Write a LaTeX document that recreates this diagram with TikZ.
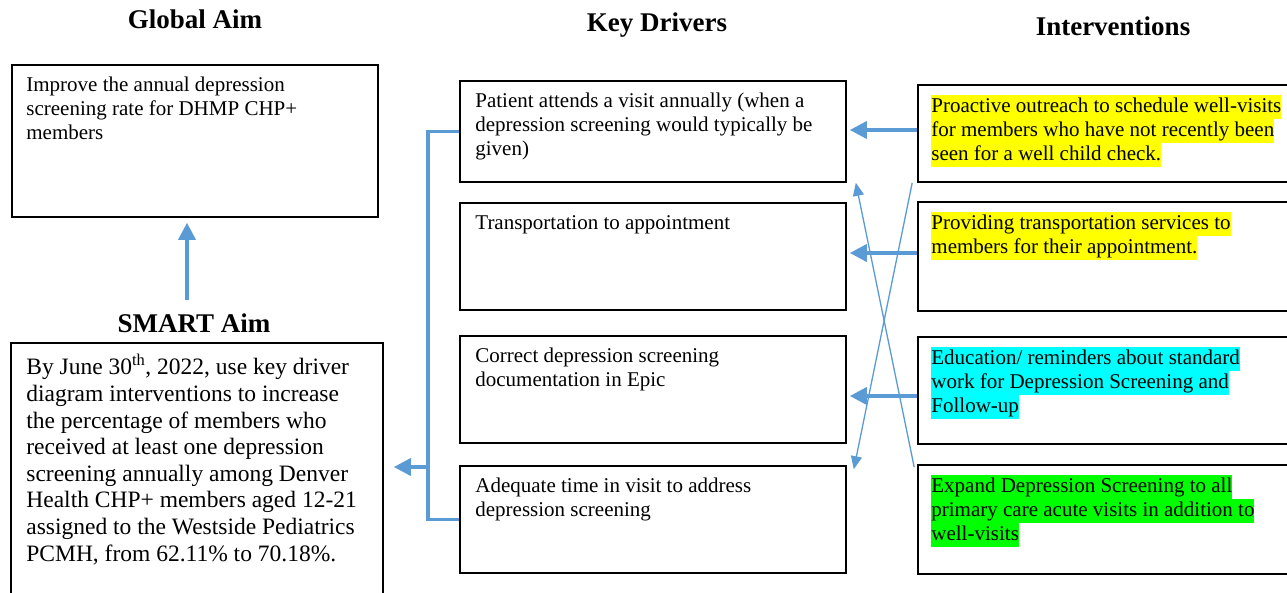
\documentclass[tikz,border=0pt]{standalone}
\usepackage{fontspec}
\setmainfont{Liberation Serif}
\usetikzlibrary{arrows.meta,positioning}
\definecolor{kddblue}{RGB}{91,155,213}
\definecolor{hlyellow}{RGB}{255,255,0}
\definecolor{hlcyan}{RGB}{0,255,255}
\definecolor{hlgreen}{RGB}{0,255,0}
\newcommand{\hlt}[2]{{\setlength{\fboxsep}{0pt}\colorbox{#1}{\strut #2}}}
\tikzset{
  box/.style={draw, line width=1.6pt, rectangle, inner sep=0pt},
  boxtext/.style={inner sep=0pt, align=left, font=\fontsize{21}{24}\selectfont},
  smarttext/.style={inner sep=0pt, align=left, font=\fontsize{23.5}{26.6}\selectfont},
  title/.style={anchor=base, inner sep=0pt, font=\fontsize{27}{30}\selectfont\bfseries},
  link/.style={draw=kddblue, line width=3.5pt},
  linkarrow/.style={link, -{Triangle[length=17pt,width=17pt]}},
  crossarrow/.style={draw=kddblue, line width=1.3pt, -{Triangle[length=13pt,width=11pt]}}
}
\begin{document}
\begin{tikzpicture}[x=1pt, y=-1pt]
\useasboundingbox[fill=white] (0,0) rectangle (1287,592);
% titles
\node[title] (tglobal) at (195,28) {Global Aim};
\node[title] (tdrivers) at (657,31) {Key Drivers};
\node[title] (tinterv) at (1113,35) {Interventions};
\node[title] (tsmart) at (194,332) {SMART Aim};
% aims
\node[box, minimum width=366pt, minimum height=152pt] (gaim) at (195,141) {};
\node[boxtext, below right=10pt and 15pt of gaim.north west] (gaimtxt) {\strut Improve the annual depression\\screening rate for DHMP CHP+\\members};
\node[box, minimum width=372pt, minimum height=277pt] (smart) at (197,481.5) {};
\node[smarttext, below right=12pt and 16pt of smart.north west] (smarttxt) {\strut By June 30\textsuperscript{th}, 2022, use key driver\\diagram interventions to increase\\the percentage of members who\\received at least one depression\\screening annually among Denver\\Health CHP+ members aged 12-21\\assigned to the Westside Pediatrics\\PCMH, from 62.11\% to 70.18\%.};
% key drivers
\node[box, minimum width=386pt, minimum height=101pt] (d1) at (653,131.5) {};
\node[box, minimum width=386pt, minimum height=107pt] (d2) at (653,256.5) {};
\node[box, minimum width=386pt, minimum height=107pt] (d3) at (653,389.5) {};
\node[box, minimum width=386pt, minimum height=107pt] (d4) at (653,519.5) {};
\node[boxtext, below right=10pt and 16pt of d1.north west] (d1txt) {\strut Patient attends a visit annually (when a\\depression screening would typically be\\given)};
\node[boxtext, below right=10pt and 16pt of d2.north west] (d2txt) {\strut Transportation to appointment};
\node[boxtext, below right=10pt and 16pt of d3.north west] (d3txt) {\strut Correct depression screening\\documentation in Epic};
\node[boxtext, below right=10pt and 16pt of d4.north west] (d4txt) {\strut Adequate time in visit to address\\depression screening};
% interventions
\node[box, minimum width=382pt, minimum height=97pt] (i1) at (1109,133.5) {};
\node[box, minimum width=382pt, minimum height=109pt] (i2) at (1109,256.5) {};
\node[box, minimum width=382pt, minimum height=107pt] (i3) at (1109,390.5) {};
\node[box, minimum width=382pt, minimum height=109pt] (i4) at (1109,519.5) {};
\node[boxtext, below right=11pt and 14pt of i1.north west] (i1txt) {\hlt{hlyellow}{Proactive outreach to schedule well-visits}\\\hlt{hlyellow}{for members who have not recently been}\\\hlt{hlyellow}{seen for a well child check.}};
\node[boxtext, below right=11pt and 14pt of i2.north west] (i2txt) {\hlt{hlyellow}{Providing transportation services to}\\\hlt{hlyellow}{members for their appointment.}};
\node[boxtext, below right=11pt and 14pt of i3.north west] (i3txt) {\hlt{hlcyan}{Education/ reminders about standard}\\\hlt{hlcyan}{work for Depression Screening and}\\\hlt{hlcyan}{Follow-up}};
\node[boxtext, below right=11pt and 14pt of i4.north west] (i4txt) {\hlt{hlgreen}{Expand Depression Screening to all}\\\hlt{hlgreen}{primary care acute visits in addition to}\\\hlt{hlgreen}{well-visits}};
% connectors
\coordinate (upstart) at (187,300);
\draw[linkarrow, shorten >=5pt] (upstart) -- (upstart |- gaim.south);
\coordinate (jn) at (428,467);
\draw[link] (d1.west) -| (jn) |- (d4.west);
\draw[linkarrow, shorten >=10pt] (jn) -- (jn -| smart.east);
\draw[linkarrow, shorten >=3pt] ([yshift=3.5pt]i1.west) coordinate (a1) -- (a1 -| d1.east);
\draw[linkarrow, shorten >=3pt] ([yshift=3.5pt]i2.west) coordinate (a2) -- (a2 -| d2.east);
\draw[linkarrow, shorten >=3pt] ([yshift=-5.5pt]i3.west) coordinate (a3) -- (a3 -| d3.east);
\draw[crossarrow] ([xshift=-5pt]i1.south west) -- ([xshift=7pt,yshift=-4pt]d4.north east);
\draw[crossarrow] ([xshift=-3pt,yshift=-3pt]i4.north west) -- ([xshift=9pt]d1.south east);
\end{tikzpicture}
\end{document}
